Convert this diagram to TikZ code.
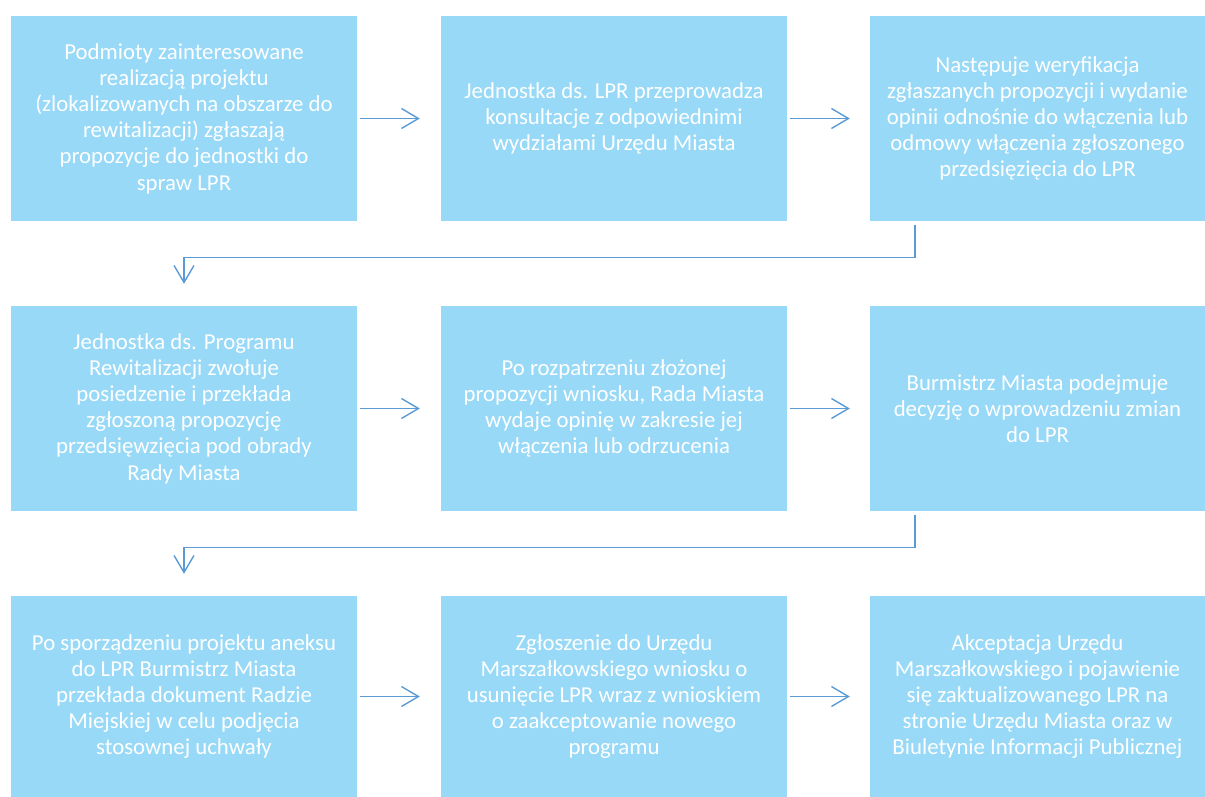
\documentclass[tikz,border=0pt]{standalone}
\usepackage{fontspec}
\setmainfont{Carlito}
\usetikzlibrary{arrows.meta, positioning, calc}
\definecolor{mBox}{HTML}{97D9F7}
\definecolor{mLine}{HTML}{5B9BD5}

\begin{document}
\begin{tikzpicture}[x=1pt, y=-1pt,
    box/.style={fill=mBox, text=white, align=center, inner sep=0pt,
      minimum width=346pt, minimum height=205pt,
      font=\fontsize{22.8}{26.2}\selectfont},
    flow/.style={draw=mLine, line width=1.4pt, -{Straight Barb[length=17pt, width=20pt]}}]
    \useasboundingbox (0,0) rectangle (1205,797);
    % row 1
    \node[box] (p1) at (184,118.5) {Podmioty zainteresowane\\ realizacją projektu\\ (zlokalizowanych na obszarze do\\ rewitalizacji) zgłaszają\\ propozycje do jednostki do\\ spraw LPR};
    \node[box] (p2) at (614,118.5) {Jednostka ds. LPR przeprowadza\\ konsultacje z odpowiednimi\\ wydziałami Urzędu Miasta};
    \node[box, minimum width=335pt] (p3) at (1037.5,118.5) {Następuje weryfikacja\\ zgłaszanych propozycji i wydanie\\ opinii odnośnie do włączenia lub\\ odmowy włączenia zgłoszonego\\ przedsięzięcia do LPR};
    % row 2
    \node[box] (p4) at (184,408.5) {Jednostka ds. Programu\\ Rewitalizacji zwołuje\\ posiedzenie i przekłada\\ zgłoszoną propozycję\\ przedsięwzięcia pod obrady\\ Rady Miasta};
    \node[box] (p5) at (614,408.5) {Po rozpatrzeniu złożonej\\ propozycji wniosku, Rada Miasta\\ wydaje opinię w zakresie jej\\ włączenia lub odrzucenia};
    \node[box, minimum width=335pt] (p6) at (1037.5,408.5) {Burmistrz Miasta podejmuje\\ decyzję o wprowadzeniu zmian\\ do LPR};
    % row 3
    \node[box, minimum height=201pt] (p7) at (184,696.5) {Po sporządzeniu projektu aneksu\\ do LPR Burmistrz Miasta\\ przekłada dokument Radzie\\ Miejskiej w celu podjęcia\\ stosownej uchwały};
    \node[box, minimum height=201pt] (p8) at (614,696.5) {Zgłoszenie do Urzędu\\ Marszałkowskiego wniosku o\\ usunięcie LPR wraz z wnioskiem\\ o zaakceptowanie nowego\\ programu};
    \node[box, minimum width=335pt, minimum height=201pt] (p9) at (1037.5,696.5) {Akceptacja Urzędu\\ Marszałkowskiego i pojawienie\\ się zaktualizowanego LPR na\\ stronie Urzędu Miasta oraz w\\ Biuletynie Informacji Publicznej};
    % connectors
    \draw[flow, shorten <=3pt, shorten >=21pt] (p1) -- (p2);
    \draw[flow, shorten <=3pt, shorten >=20pt] (p2) -- (p3);
    \draw[flow, shorten <=3pt, shorten >=21pt] (p4) -- (p5);
    \draw[flow, shorten <=3pt, shorten >=20pt] (p5) -- (p6);
    \draw[flow, shorten <=3pt, shorten >=21pt] (p7) -- (p8);
    \draw[flow, shorten <=3pt, shorten >=20pt] (p8) -- (p9);
    \draw[flow] ($(p3.south west)+(45,4)$) -- ++(0,32) -| ([yshift=22pt]p4.north);
    \draw[flow] ($(p6.south west)+(45,4)$) -- ++(0,32) -| ([yshift=22pt]p7.north);
\end{tikzpicture}
\end{document}
